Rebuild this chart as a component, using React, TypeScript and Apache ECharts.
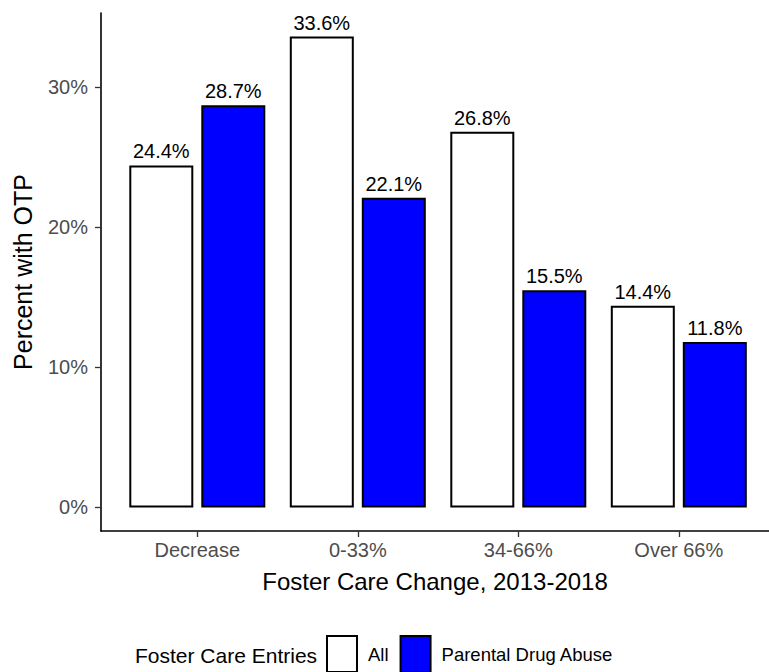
import React, { useEffect, useRef } from "react";
import * as echarts from "echarts";

const categories = ["Decrease", "0-33%", "34-66%", "Over 66%"];
const allValues = [24.4, 33.6, 26.8, 14.4];
const drugValues = [28.7, 22.1, 15.5, 11.8];
const yTicks = [0, 10, 20, 30];
const seriesNames = ["All", "Parental Drug Abuse"];

const FONT = "'Liberation Sans', Arial, Helvetica, sans-serif";

export default function App() {
  const ref = useRef<HTMLDivElement>(null);
  useEffect(() => {
    if (!ref.current) return;
    const chart = echarts.init(ref.current, null, { renderer: "svg" });
    const labelCfg = {
      show: true,
      position: "top",
      distance: 4,
      formatter: (p: any) => `${p.value[1].toFixed(1)}%`,
      color: "#000",
      fontSize: 20,
      fontFamily: FONT,
    };
    chart.setOption({
      animation: false,
      backgroundColor: "#fff",
      textStyle: { fontFamily: FONT },
      grid: { left: 101, right: 0, top: 13, bottom: 141, containLabel: false },
      xAxis: {
        type: "value",
        min: -0.6,
        max: 3.562,
        name: "Foster Care Change, 2013-2018",
        nameLocation: "middle",
        nameGap: 38,
        nameTextStyle: { fontSize: 24, color: "#000", fontFamily: FONT },
        splitLine: { show: false },
        axisLine: { show: true, onZero: false, lineStyle: { color: "#000", width: 1.6 } },
        axisTick: { show: true, length: 6, customValues: [0, 1, 2, 3], lineStyle: { color: "#333", width: 1.3 } },
        axisLabel: {
          customValues: [0, 1, 2, 3],
          formatter: (v: number) => categories[Math.round(v)] ?? "",
          fontSize: 20,
          color: "#4d4d4d",
          margin: 9,
          fontFamily: FONT,
        },
      },
      yAxis: {
        type: "value",
        min: -1.68,
        max: 35.28,
        name: "Percent with OTP",
        nameLocation: "middle",
        nameGap: 66,
        nameTextStyle: { fontSize: 25, color: "#000", fontFamily: FONT },
        splitLine: { show: false },
        axisLine: { show: true, onZero: false, lineStyle: { color: "#000", width: 1.6 } },
        axisTick: { show: true, length: 6, customValues: yTicks, lineStyle: { color: "#333", width: 1.3 } },
        axisLabel: {
          customValues: yTicks,
          formatter: (v: number) => `${Math.round(v)}%`,
          fontSize: 20,
          color: "#4d4d4d",
          margin: 13,
          fontFamily: FONT,
        },
      },
      legend: {
        data: seriesNames,
        left: 326,
        top: 635,
        padding: 0,
        itemWidth: 30,
        itemHeight: 36,
        itemGap: 11,
        icon: "rect",
        textStyle: { fontSize: 18.5, color: "#000", fontFamily: FONT, padding: [0, 0, 0, 6] },
      },
      graphic: [
        {
          type: "text",
          x: 135,
          y: 655,
          style: {
            text: "Foster Care Entries",
            fontSize: 21,
            fill: "#000",
            fontFamily: FONT,
            verticalAlign: "middle",
          },
        },
      ],
      series: [
        {
          name: seriesNames[0],
          type: "bar",
          barWidth: 64,
          barGap: "12.5%",
          data: allValues.map((v, i) => [i, v]),
          itemStyle: { color: "#ffffff", borderColor: "#000", borderWidth: 2 },
          label: labelCfg,
        },
        {
          name: seriesNames[1],
          type: "bar",
          barWidth: 64,
          barGap: "12.5%",
          data: drugValues.map((v, i) => [i, v]),
          itemStyle: { color: "#0000ff", borderColor: "#000", borderWidth: 2 },
          label: labelCfg,
        },
      ],
    });
    return () => chart.dispose();
  }, []);
  return (
    <div
      ref={ref}
      style={{ position: "fixed", left: 0, top: 0, width: 769, height: 672, background: "#fff" }}
    />
  );
}
